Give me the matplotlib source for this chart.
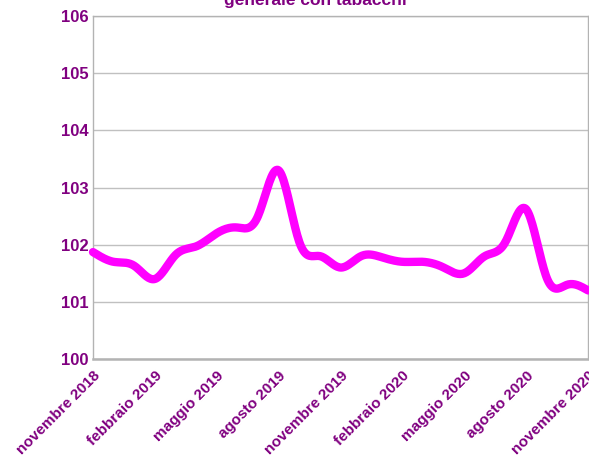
import numpy as np
import matplotlib
matplotlib.use("Agg")
import matplotlib.pyplot as plt

# monthly index, nov 2018 .. nov 2020
mesi = ["novembre 2018", "dicembre 2018", "gennaio 2019", "febbraio 2019", "marzo 2019",
        "aprile 2019", "maggio 2019", "giugno 2019", "luglio 2019", "agosto 2019",
        "settembre 2019", "ottobre 2019", "novembre 2019", "dicembre 2019", "gennaio 2020",
        "febbraio 2020", "marzo 2020", "aprile 2020", "maggio 2020", "giugno 2020",
        "luglio 2020", "agosto 2020", "settembre 2020", "ottobre 2020", "novembre 2020"]
indice = [101.87, 101.7, 101.63, 101.4, 101.82, 101.97, 102.2, 102.3, 102.5, 103.3,
          102.05, 101.8, 101.6, 101.8, 101.78, 101.7, 101.7, 101.6, 101.5, 101.8,
          102.05, 102.62, 101.42, 101.3, 101.2]
titolo = "generale con tabacchi"

viola = "#800080"
plt.rcParams['font.family'] = ['Liberation Sans Narrow', 'Liberation Sans', 'DejaVu Sans']


def natural_spline(x, y, n=20):
    # natural cubic spline, like the office chart smoothing
    x = np.asarray(x, float)
    y = np.asarray(y, float)
    k = len(x)
    h = np.diff(x)
    A = np.zeros((k, k))
    b = np.zeros(k)
    A[0, 0] = A[-1, -1] = 1
    for i in range(1, k - 1):
        A[i, i - 1] = h[i - 1]
        A[i, i] = 2 * (h[i - 1] + h[i])
        A[i, i + 1] = h[i]
        b[i] = 3 * ((y[i + 1] - y[i]) / h[i] - (y[i] - y[i - 1]) / h[i - 1])
    c = np.linalg.solve(A, b)
    xs, ys = [], []
    for i in range(k - 1):
        t = np.linspace(0, h[i], n, endpoint=(i == k - 2))
        bb = (y[i + 1] - y[i]) / h[i] - h[i] * (2 * c[i] + c[i + 1]) / 3
        d = (c[i + 1] - c[i]) / (3 * h[i])
        xs.append(x[i] + t)
        ys.append(y[i] + bb * t + c[i] * t ** 2 + d * t ** 3)
    return np.concatenate(xs), np.concatenate(ys)


fig = plt.figure(figsize=(5.89, 4.59), dpi=100)
ax = fig.add_axes([93 / 589, 1 - 359 / 459, 495 / 589, 343 / 459])

x = np.arange(len(mesi))
xs, ys = natural_spline(x, indice)
ax.plot(xs, ys, color="#ff00ff", linewidth=6, solid_capstyle="round", clip_on=False, zorder=3)

ax.set_xlim(0, len(mesi) - 1)
ax.set_ylim(100, 106)
ax.set_yticks(range(100, 107))
ax.set_xticks(x[::3])
ax.set_xticklabels(mesi[::3], rotation=45, ha="right", va="top", rotation_mode="anchor")
ax.grid(axis="y", color="#c0c0c0", linewidth=1)
ax.set_axisbelow(True)
for s in ax.spines.values():
    s.set_color("#b3b3b3")
    s.set_linewidth(1)
ax.spines["bottom"].set_linewidth(1.8)
ax.tick_params(axis="y", length=0, pad=3, labelsize=12, labelcolor=viola)
ax.tick_params(axis="x", length=0, pad=7, labelsize=11, labelcolor=viola)
for lab in ax.get_xticklabels() + ax.get_yticklabels():
    lab.set_fontweight("bold")

fig.text(315 / 589, 1 - 5 / 459, titolo, ha="center", va="baseline",
         fontsize=12.5, fontweight="bold", color=viola)

fig.savefig("out.png", dpi=100)
